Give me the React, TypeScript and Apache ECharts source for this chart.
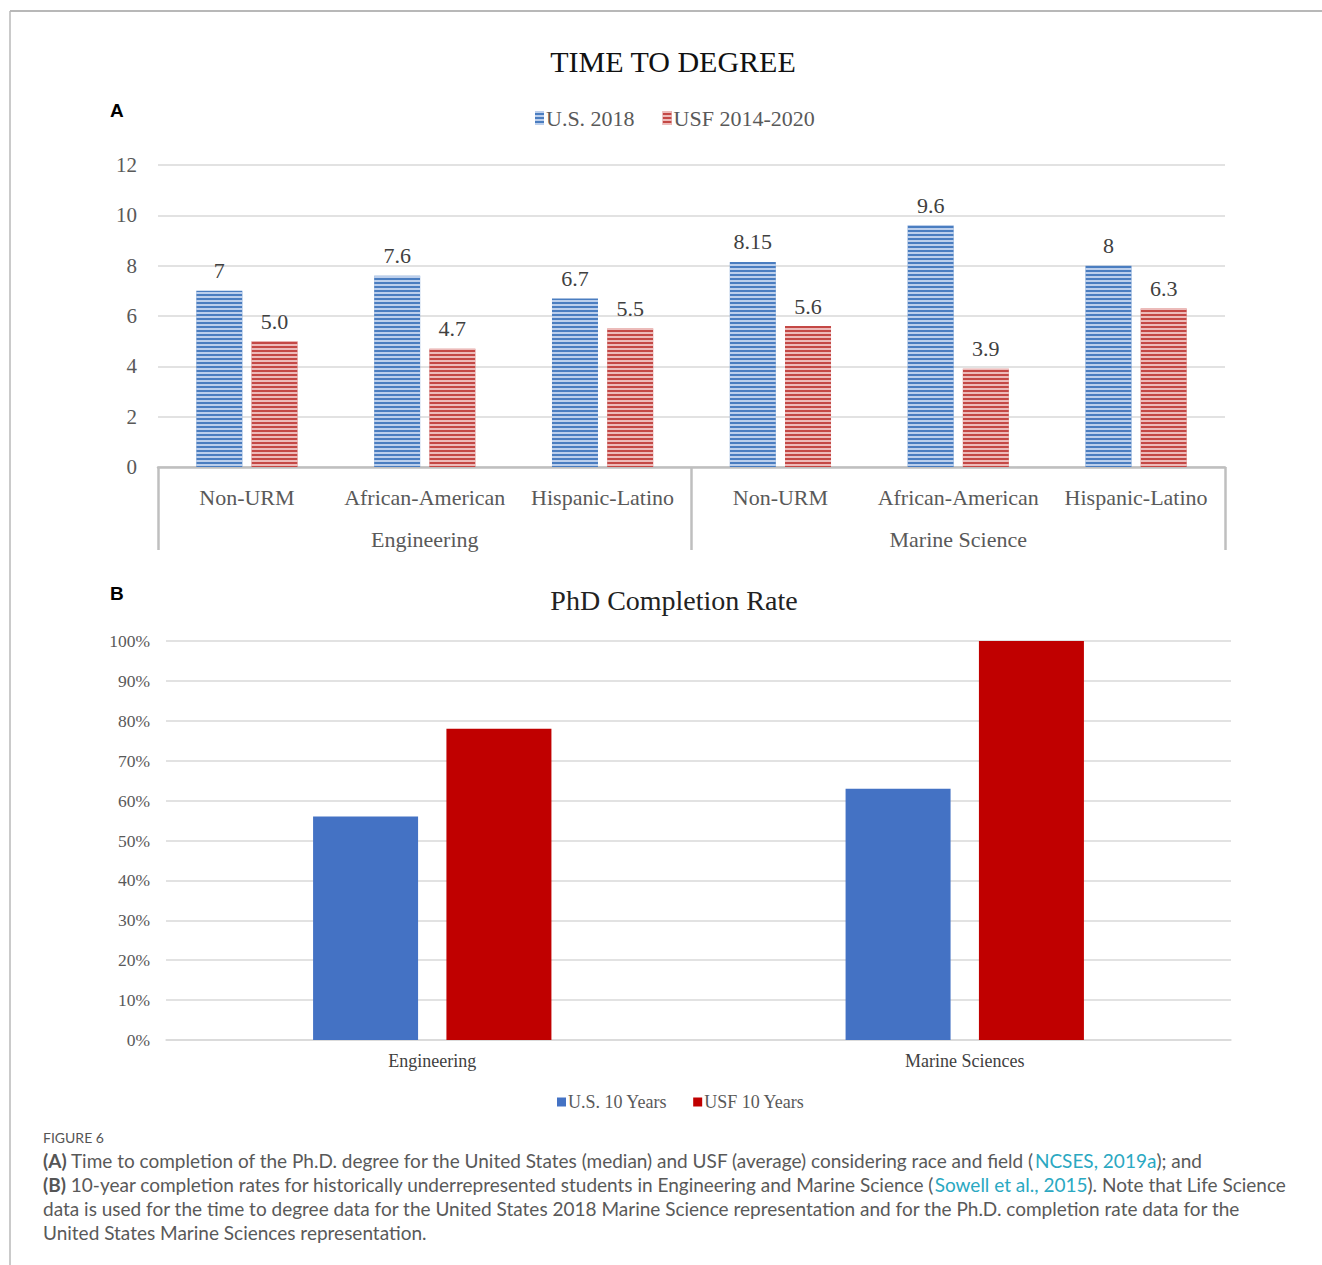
import React, { useEffect, useRef } from "react";
import * as echarts from "echarts";

// Chart A: time to degree
const raceCategories = ["Non-URM", "African-American", "Hispanic-Latino", "Non-URM", "African-American", "Hispanic-Latino"];
const fieldGroups = ["Engineering", "Marine Science"];
const usTime2018 = [7, 7.6, 6.7, 8.15, 9.6, 8];
const usfTime2014_2020 = [5.0, 4.7, 5.5, 5.6, 3.9, 6.3];
const timeSeriesNames = ["U.S. 2018", "USF 2014-2020"];

// Chart B: PhD completion rate (%)
const completionCategories = ["Engineering", "Marine Sciences"];
const usCompletion10 = [56, 63];
const usfCompletion10 = [78, 100];
const completionSeriesNames = ["U.S. 10 Years", "USF 10 Years"];

const captionLines = [
  "{b|(A)} Time to completion of the Ph.D. degree for the United States (median) and USF (average) considering race and field ({l|NCSES, 2019a}); and",
  "{b|(B)} 10-year completion rates for historically underrepresented students in Engineering and Marine Science ({l|Sowell et al., 2015}). Note that Life Science",
  "data is used for the time to degree data for the United States 2018 Marine Science representation and for the Ph.D. completion rate data for the",
  "United States Marine Sciences representation.",
];

const SERIF_A = "'Liberation Serif', 'DejaVu Serif', serif";
const SERIF_B = "'Liberation Serif', serif";
const SANS = "Lato, 'Noto Sans', sans-serif";

export default function App() {
  const ref = useRef<HTMLDivElement>(null);
  useEffect(() => {
    if (!ref.current) return;
    const chart = echarts.init(ref.current, undefined, { renderer: "svg" });
    const stripe = (c: string) => ({
      symbol: "rect",
      symbolSize: 1,
      dashArrayX: [1, 0],
      dashArrayY: [2, 2],
      rotation: 0,
      color: c,
    });
    const option: any = {
      animation: false,
      backgroundColor: "#ffffff",
      title: [
        {
          text: "TIME TO DEGREE",
          left: 668,
          top: 41,
          textAlign: "center",
          textStyle: { fontFamily: SERIF_A, fontSize: 30, fontWeight: "normal", color: "#111" },
        },
        {
          text: "PhD Completion Rate",
          left: 669,
          top: 581,
          textAlign: "center",
          textStyle: { fontFamily: SERIF_B, fontSize: 28, fontWeight: "normal", color: "#222" },
        },
      ],
      legend: [
        {
          data: timeSeriesNames,
          left: 530,
          top: 102,
          itemWidth: 9,
          itemHeight: 14,
          itemGap: 28,
          icon: "rect",
          textStyle: { fontFamily: SERIF_A, fontSize: 22, color: "#595959", padding: [0, 0, 0, -3] },
        },
        {
          data: completionSeriesNames,
          left: 552,
          top: 1088,
          itemWidth: 9,
          itemHeight: 9,
          itemGap: 26,
          icon: "rect",
          textStyle: { fontFamily: SERIF_B, fontSize: 18, color: "#595959", padding: [0, 0, 0, -3] },
        },
      ],
      grid: [
        { left: 158, right: 97, top: 165, bottom: 798, containLabel: false },
        { left: 166, right: 91, top: 641, bottom: 225, containLabel: false },
      ],
      xAxis: [
        {
          type: "category",
          gridIndex: 0,
          data: raceCategories,
          axisLine: { show: true, lineStyle: { color: "#bfbfbf", width: 2.5 } },
          axisTick: { show: false },
          axisLabel: { fontFamily: SERIF_A, fontSize: 22, color: "#595959", margin: 19, interval: 0 },
        },
        {
          type: "category",
          gridIndex: 0,
          position: "bottom",
          offset: 0,
          data: fieldGroups,
          axisLine: { show: false },
          axisTick: { show: true, length: 83, lineStyle: { color: "#bfbfbf", width: 2.5 } },
          axisLabel: { fontFamily: SERIF_A, fontSize: 22, color: "#595959", margin: 61, interval: 0 },
        },
        {
          type: "category",
          gridIndex: 1,
          data: completionCategories,
          axisLine: { show: true, lineStyle: { color: "#d9d9d9", width: 1.5 } },
          axisTick: { show: false },
          axisLabel: { fontFamily: SERIF_B, fontSize: 18, color: "#404040", margin: 12 },
        },
      ],
      yAxis: [
        {
          type: "value",
          gridIndex: 0,
          min: 0,
          max: 12,
          interval: 2,
          axisLine: { show: false },
          axisTick: { show: false },
          splitLine: { lineStyle: { color: "#d9d9d9", width: 1.5 } },
          axisLabel: { fontFamily: SERIF_A, fontSize: 21, color: "#595959", margin: 21 },
        },
        {
          type: "value",
          gridIndex: 1,
          min: 0,
          max: 100,
          interval: 10,
          axisLine: { show: false },
          axisTick: { show: false },
          splitLine: { lineStyle: { color: "#d9d9d9", width: 1.5 } },
          axisLabel: { fontFamily: SERIF_B, fontSize: 17.5, color: "#595959", margin: 16, formatter: "{value}%" },
        },
      ],
      series: [
        {
          name: timeSeriesNames[0],
          type: "bar",
          xAxisIndex: 0,
          yAxisIndex: 0,
          data: usTime2018,
          barWidth: 46,
          barGap: "20%",
          itemStyle: { color: "#4a7dc0", decal: stripe("rgba(225,235,250,0.75)") },
          label: {
            show: true,
            position: "top",
            distance: 9,
            fontFamily: SERIF_A,
            fontSize: 22,
            color: "#404040",
            formatter: (p: any) => String(p.value),
          },
        },
        {
          name: timeSeriesNames[1],
          type: "bar",
          xAxisIndex: 0,
          yAxisIndex: 0,
          data: usfTime2014_2020,
          barWidth: 46,
          barGap: "20%",
          itemStyle: { color: "#c44845", decal: stripe("rgba(250,225,225,0.75)") },
          label: {
            show: true,
            position: "top",
            distance: 9,
            fontFamily: SERIF_A,
            fontSize: 22,
            color: "#404040",
            formatter: (p: any) => Number(p.value).toFixed(1),
          },
        },
        {
          name: completionSeriesNames[0],
          type: "bar",
          xAxisIndex: 2,
          yAxisIndex: 1,
          data: usCompletion10,
          barWidth: 105,
          barGap: "27%",
          itemStyle: { color: "#4472c4" },
        },
        {
          name: completionSeriesNames[1],
          type: "bar",
          xAxisIndex: 2,
          yAxisIndex: 1,
          data: usfCompletion10,
          barWidth: 105,
          barGap: "27%",
          itemStyle: { color: "#c00000" },
        },
      ],
      graphic: [
        { type: "line", shape: { x1: 10, y1: 11, x2: 1322, y2: 11 }, style: { stroke: "#b8b8b8", lineWidth: 2 } },
        { type: "line", shape: { x1: 10, y1: 11, x2: 10, y2: 1265 }, style: { stroke: "#b8b8b8", lineWidth: 1.5 } },
        {
          type: "text",
          x: 110,
          y: 101,
          style: { text: "A", font: "bold 19px 'Liberation Sans', Arial, sans-serif", fill: "#000" },
        },
        {
          type: "text",
          x: 110,
          y: 584,
          style: { text: "B", font: "bold 19px 'Liberation Sans', Arial, sans-serif", fill: "#000" },
        },
        {
          type: "text",
          x: 43,
          y: 1130,
          style: { text: "FIGURE 6", font: `14px ${SANS}`, fill: "#555" },
        },
        ...captionLines.map((line, i) => ({
          type: "text",
          x: 43,
          y: 1151 + i * 24,
          style: {
            text: line,
            font: `19px ${SANS}`,
            fill: "#595959",
            rich: {
              b: { fontFamily: SANS, fontSize: 19, fontWeight: "bold", fill: "#555" },
              l: { fontFamily: SANS, fontSize: 19, fill: "#2aa8c2" },
            },
          },
        })),
      ],
    };
    chart.setOption(option);
    return () => chart.dispose();
  }, []);
  return (
    <div
      ref={ref}
      style={{ position: "absolute", left: 0, top: 0, width: 1322, height: 1265 }}
    />
  );
}
